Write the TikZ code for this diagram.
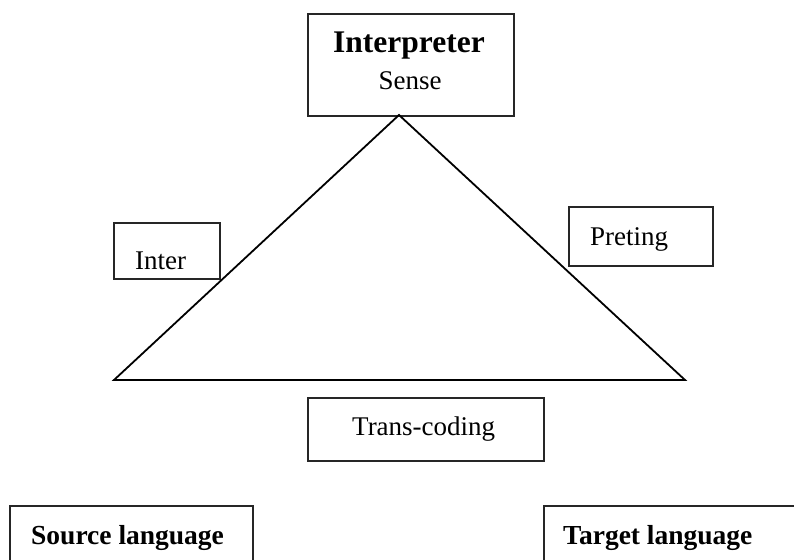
\documentclass[tikz,border=0pt]{standalone}
\usepackage{fontspec}
\setmainfont{Liberation Serif}
\begin{document}
\begin{tikzpicture}[x=1pt,y=-1pt,
  box/.style={draw=black!85,line width=1.6pt,inner sep=0pt,anchor=north west},
  lbl/.style={anchor=base west,inner sep=0pt,font=\fontsize{27}{32}\selectfont},
  blbl/.style={anchor=base west,inner sep=0pt,font=\fontsize{27.5}{32}\selectfont\bfseries},
  tri/.style={draw=black,line width=1.8pt,line join=miter}]
\useasboundingbox (0,0) rectangle (794,559);
\clip (0,0) rectangle (794,559);
% boxes
\node[box,minimum width=206pt,minimum height=102pt] (interp) at (307,13) {};
\node[box,minimum width=106pt,minimum height=56pt] (inter) at (113,222) {};
\node[box,minimum width=144pt,minimum height=59pt] (preting) at (568,206) {};
\node[box,minimum width=236pt,minimum height=63pt] (trans) at (307,397) {};
\node[box,minimum width=243pt,minimum height=80pt] (source) at (9,505) {};
\node[box,minimum width=270pt,minimum height=80pt] (target) at (543,505) {};
% triangle
\coordinate (apex) at (399,115);
\coordinate (bl) at (114,380);
\coordinate (br) at (685,380);
\draw[tri] (bl) -- (apex) -- (br) -- cycle;
% texts
\node[anchor=base,inner sep=0pt,font=\fontsize{31.5}{36}\selectfont\bfseries] (interpT) at (409,53) {Interpreter};
\node[anchor=base,inner sep=0pt,font=\fontsize{27}{32}\selectfont] (senseT) at (410,90) {Sense};
\node[lbl] (interT) at (135,269) {Inter};
\node[lbl] (pretingT) at (590,245) {Preting};
\node[lbl] (transT) at (352,435) {Trans-coding};
\node[blbl] (sourceT) at (31,544) {Source language};
\node[blbl] (targetT) at (563,544) {Target language};
\end{tikzpicture}
\end{document}
